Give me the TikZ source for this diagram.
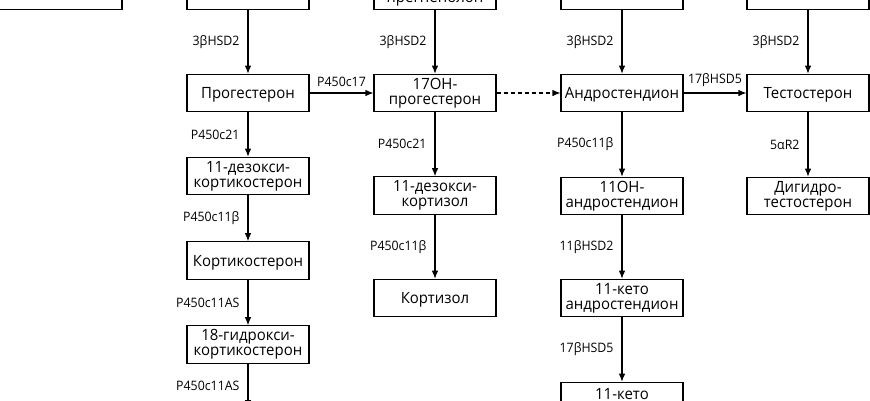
\documentclass[tikz,border=0pt]{standalone}
\usepackage{fontspec}
\setmainfont{Open Sans}[FakeStretch=0.965]
\newfontfamily\lblfont{Open Sans}[FakeStretch=0.95]
\usetikzlibrary{arrows.meta}
\begin{document}
\begin{tikzpicture}[x=1pt,y=-1pt,
 box/.style={draw, line width=1.1pt, minimum width=122pt, minimum height=37.5pt, inner sep=0pt, align=center, font=\fontsize{15.5}{15}\selectfont},
 single/.style={box, text depth=0pt},
 conn/.style={line width=1.1pt, -{Latex[length=8pt,width=6.5pt]}},
 dconn/.style={conn, dash pattern=on 4pt off 3pt},
 lbl/.style={font=\lblfont\fontsize{13}{13}\selectfont, inner sep=0pt},
]
\useasboundingbox (0,0) rectangle (870,400);
\clip (0,0) rectangle (870,400);
% top row (cut off)
\node[box, minimum width=123pt] (c1top) at (60.5,-9) {};
\node[box] (c2top) at (248,-9) {};
\node[box] (c3top) at (435,-9) {17OH-\\прегненолон};
\node[box] (c4top) at (622,-9) {};
\node[box] (c5top) at (808,-9) {};
% row 2
\node[single] (prog) at (248,93) {Прогестерон};
\node[box] (ohp) at (435,93) {17OH-\\прогестерон};
\node[single] (andro) at (622,93) {Андростендион};
\node[single] (testo) at (808,93) {Тестостерон};
% col 2
\node[box] (dcs) at (248,176) {11-дезокси-\\кортикостерон};
\node[single] (cs) at (248,260.5) {Кортикостерон};
\node[box] (hcs) at (248,344.5) {18-гидрокси-\\кортикостерон};
\coordinate (ald) at (248,408);
% col 3
\node[box] (dkz) at (435,195.5) {11-дезокси-\\кортизол};
\node[single] (kz) at (435,298) {Кортизол};
% col 4
\node[box] (ohandro) at (622,196) {11OH-\\андростендион};
\node[box] (kandro) at (622,298) {11-кето\\андростендион};
\node[box] (ktesto) at (622,401) {11-кето\\\mbox{}};
% col 5
\node[box] (dht) at (808,196) {Дигидро-\\тестостерон};
% connectors
\draw[conn] (c2top) -- node[lbl,left=8pt]{3βHSD2} (prog);
\draw[conn] (c3top) -- node[lbl,left=8pt]{3βHSD2} (ohp);
\draw[conn] (c4top) -- node[lbl,left=8pt]{3βHSD2} (andro);
\draw[conn] (c5top) -- node[lbl,left=8pt]{3βHSD2} (testo);
\draw[conn] (prog) -- node[lbl,above=6pt]{P450c17} (ohp);
\draw[dconn] (ohp) -- (andro);
\draw[conn] (andro) -- node[lbl,above=6pt]{17βHSD5} (testo);
\draw[conn] (prog) -- node[lbl,left=8pt]{P450c21} (dcs);
\draw[conn] (dcs) -- node[lbl,left=8pt]{P450c11β} (cs);
\draw[conn] (cs) -- node[lbl,left=8pt]{P450c11AS} (hcs);
\draw[conn] (hcs) -- node[lbl,left=8pt]{P450c11AS} (ald);
\draw[conn] (ohp) -- node[lbl,left=8pt]{P450c21} (dkz);
\draw[conn] (dkz) -- node[lbl,left=8pt]{P450c11β} (kz);
\draw[conn] (andro) -- node[lbl,left=8pt]{P450c11β} (ohandro);
\draw[conn] (ohandro) -- node[lbl,left=8pt]{11βHSD2} (kandro);
\draw[conn] (kandro) -- node[lbl,left=8pt]{17βHSD5} (ktesto);
\draw[conn] (testo) -- node[lbl,left=8pt]{5αR2} (dht);
\end{tikzpicture}
\end{document}
